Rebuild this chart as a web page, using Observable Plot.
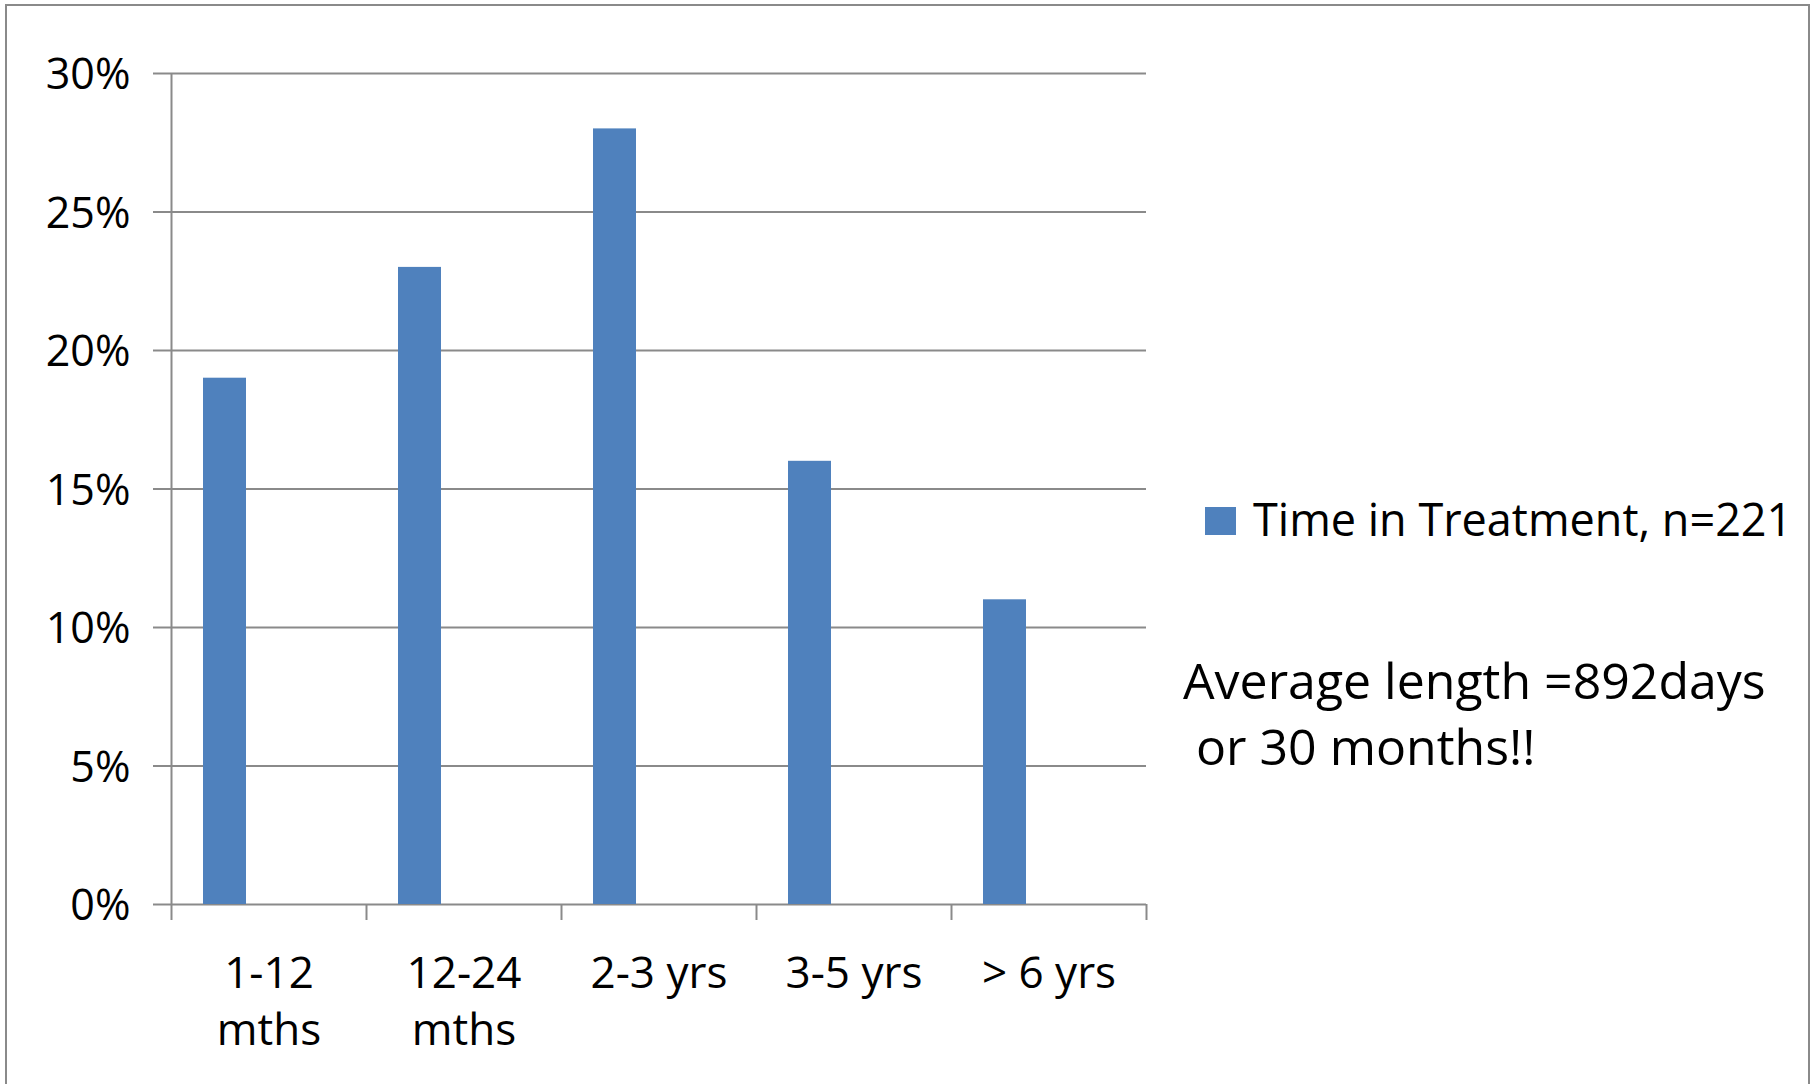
<!DOCTYPE html>
<html>
<head>
<meta charset="utf-8">
<script src="https://cdn.jsdelivr.net/npm/d3@7"></script>
<script src="https://cdn.jsdelivr.net/npm/@observablehq/plot@0.6"></script>
<style>
  html, body { margin: 0; padding: 0; background: #fff; overflow: hidden; }
  #page { position: relative; width: 1817px; height: 1084px; overflow: hidden; font-family: "Open Sans", sans-serif; color: #000; }
  #frame { position: absolute; left: 5px; top: 4px; width: 1805px; height: 1200px; border: 2px solid #8a8a8a; box-sizing: border-box; }
  #chart { position: absolute; left: 0; top: 0; }
  #legend { position: absolute; left: 1205px; top: 496px; font-size: 45px; line-height: 1; white-space: nowrap; }
  #legend .swatch { position: absolute; left: 0; top: 11px; width: 31px; height: 28px; background: #4F81BD; }
  #legend .label { position: absolute; left: 48px; top: 0; }
  #note { position: absolute; left: 1183px; top: 647px; font-size: 50px; line-height: 66px; white-space: pre; }
</style>
</head>
<body>
<div id="page">
  <div id="frame"></div>
  <div id="chart"></div>
  <div id="legend"><div class="swatch"></div><div class="label"></div></div>
  <div id="note"></div>
</div>
<script>
// Time in treatment: share of clients by duration band
const categories = ["1-12\nmths", "12-24\nmths", "2-3 yrs", "3-5 yrs", "> 6 yrs"];
const values = [0.19, 0.23, 0.28, 0.16, 0.11];
const yTicks = [0, 0.05, 0.10, 0.15, 0.20, 0.25, 0.30];
const seriesName = "Time in Treatment, n=221";
const noteLines = ["Average length =892days", " or 30 months!!"];

const rows = categories.map((label, i) => ({i, label, value: values[i]}));
const boundaries = d3.range(categories.length + 1);

const axisGray = "#8a8a8a";
const barBlue = "#4F81BD";

const chart = Plot.plot({
  width: 1817,
  height: 1084,
  marginLeft: 171,
  marginRight: 671,
  marginTop: 73,
  marginBottom: 180,
  style: {fontFamily: "'Open Sans', sans-serif", background: "transparent", color: "#000"},
  x: {type: "linear", domain: [0, categories.length]},
  y: {domain: [0, 0.30]},
  marks: [
    Plot.gridY(yTicks, {stroke: axisGray, strokeOpacity: 1, strokeWidth: 2}),
    Plot.rectY(rows, {x1: "i", x2: d => d.i + 1, y: "value", fill: barBlue, insetLeft: 32, insetRight: 120}),
    Plot.ruleX([0], {stroke: axisGray, strokeWidth: 2}),
    // left tick marks only
    Plot.axisY(yTicks, {
      tickFormat: () => "", tickSize: 18,
      stroke: axisGray, strokeWidth: 2, strokeOpacity: 1, label: null
    }),
    // percentage labels only
    Plot.axisY(yTicks, {
      tickFormat: d3.format(".0%"), tickSize: 0, tickPadding: 41,
      fill: "#000", fontSize: 43, dy: 2, label: null
    }),
    Plot.axisX(boundaries, {
      tickFormat: () => "", tickSize: 16,
      stroke: axisGray, strokeWidth: 2, strokeOpacity: 1, label: null
    }),
    Plot.text(rows, {
      x: d => d.i + 0.5, y: () => 0, text: "label",
      lineAnchor: "top", dy: 43, lineHeight: 1.29, fontSize: 44, fill: "#000"
    })
  ]
});
document.getElementById("chart").append(chart);

document.querySelector("#legend .label").textContent = seriesName;
document.getElementById("note").textContent = noteLines.join("\n");
</script>
</body>
</html>
